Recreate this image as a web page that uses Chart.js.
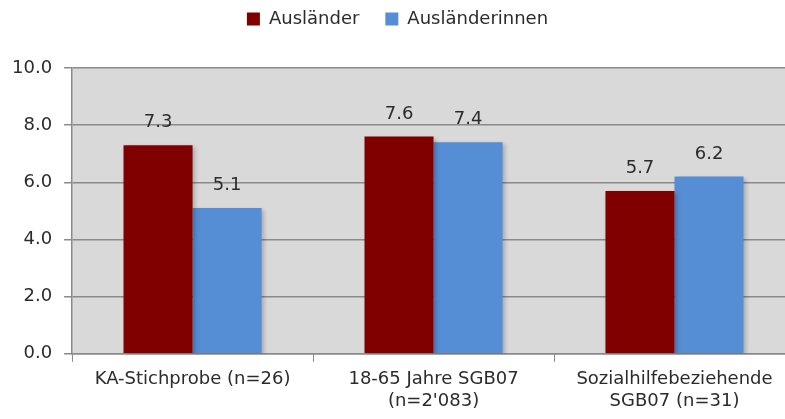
<!DOCTYPE html>
<html>
<head>
<meta charset="utf-8">
<script src="https://cdn.jsdelivr.net/npm/chart.js@4"></script>
<style>
  html, body { margin: 0; padding: 0; background: #fff; overflow: hidden; }
  #wrap { width: 795px; height: 419px; }
</style>
</head>
<body>
<div id="wrap"><canvas id="chart" width="795" height="419"></canvas></div>
<script>
const categories = [
    'KA-Stichprobe (n=26)',
    ['18-65 Jahre SGB07', "(n=2'083)"],
    ['Sozialhilfebeziehende', 'SGB07 (n=31)']
];
const auslaender = [7.3, 7.6, 5.7];
const auslaenderinnen = [5.1, 7.4, 6.2];
const yTicks = [0, 2, 4, 6, 8, 10];

const fontFamily = '"DejaVu Sans", sans-serif';
const textColor = '#2b2b2b';
const gridColor = '#8a8a8a';

// grey plot background
const plotBg = {
    id: 'plotBg',
    beforeDraw(chart) {
        const a = chart.chartArea;
        const c = chart.ctx;
        c.save();
        c.fillStyle = '#d9d9d9';
        c.fillRect(a.left, a.top, a.right - a.left, a.bottom - a.top);
        c.restore();
    }
};

// extra space below the legend
const legendGap = {
    id: 'legendGap',
    beforeInit(chart) {
        const legend = chart.legend;
        if (!legend) return;
        const fit = legend.fit;
        legend.fit = function() {
            fit.call(this);
            this.height += 30;
        };
    }
};

// soft shadow behind bars
const barShadow = {
    id: 'barShadow',
    beforeDatasetsDraw(chart) {
        const c = chart.ctx;
        c.save();
        c.shadowColor = 'rgba(0,0,0,0.22)';
        c.shadowBlur = 4;
        c.shadowOffsetX = 2;
        c.shadowOffsetY = 2;
    },
    afterDatasetsDraw(chart) {
        chart.ctx.restore();
    }
};

// value labels above bars
const valueLabels = {
    id: 'valueLabels',
    afterDatasetsDraw(chart) {
        const c = chart.ctx;
        c.save();
        c.font = '18px ' + fontFamily;
        c.fillStyle = textColor;
        c.textAlign = 'center';
        c.textBaseline = 'alphabetic';
        chart.data.datasets.forEach((ds, i) => {
            chart.getDatasetMeta(i).data.forEach((bar, j) => {
                c.fillText(ds.data[j].toFixed(1), bar.x, bar.y - 18);
            });
        });
        c.restore();
    }
};

const ctx = document.getElementById('chart').getContext('2d');
new Chart(ctx, {
    type: 'bar',
    data: {
        labels: categories,
        datasets: [{
            label: 'Ausländer',
            data: auslaender,
            backgroundColor: '#800000'
        }, {
            label: 'Ausländerinnen',
            data: auslaenderinnen,
            backgroundColor: '#558ed5'
        }]
    },
    options: {
        responsive: false,
        animation: false,
        layout: { padding: { left: 0, right: 0, top: -16, bottom: 0 } },
        datasets: {
            bar: { barPercentage: 1, categoryPercentage: 0.573 }
        },
        scales: {
            x: {
                grid: { drawOnChartArea: false, offset: true, tickLength: 8, color: gridColor },
                border: { color: gridColor, width: 1.5 },
                ticks: {
                    color: textColor,
                    font: { family: fontFamily, size: 18, lineHeight: 1.2 },
                    padding: 7,
                    maxRotation: 0
                }
            },
            y: {
                min: 0, max: 10,
                afterBuildTicks(axis) { axis.ticks = yTicks.map(v => ({ value: v })); },
                grid: { color: gridColor, lineWidth: 1.5, tickLength: 8 },
                border: { color: gridColor, width: 1.5 },
                ticks: {
                    color: textColor,
                    font: { family: fontFamily, size: 18 },
                    padding: 12,
                    callback: v => v.toFixed(1)
                }
            }
        },
        plugins: {
            legend: {
                position: 'top',
                labels: {
                    color: textColor,
                    font: { family: fontFamily, size: 18 },
                    boxWidth: 13,
                    boxHeight: 13,
                    padding: 26
                }
            },
            tooltip: { enabled: false }
        }
    },
    plugins: [plotBg, legendGap, barShadow, valueLabels]
});
</script>
</body>
</html>
